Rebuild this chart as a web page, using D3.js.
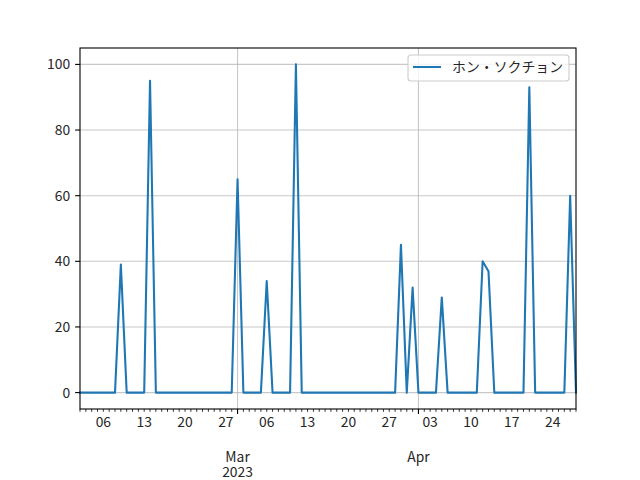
<!DOCTYPE html>
<html><head><meta charset="utf-8">
<script src="https://cdn.jsdelivr.net/npm/d3@7"></script>
<style>
body{margin:0;background:#fff;}
text{font-family:"Noto Sans CJK JP","DejaVu Sans",sans-serif;}
</style></head>
<body><svg id="c" width="640" height="480"></svg>
<script>
const startDate = "2023-02-02";
const seriesName = "ホン・ソクチョン";
// daily values from Feb 2 to Apr 28, 2023 (nonzero days listed, all others 0)
const peakDates = ["2023-02-09","2023-02-14","2023-03-01","2023-03-06","2023-03-11","2023-03-29","2023-03-31","2023-04-05","2023-04-12","2023-04-13","2023-04-20","2023-04-27"];
const peakValues = [39, 95, 65, 34, 100, 45, 32, 29, 40, 37, 93, 60];
const endDate = "2023-04-28";
const yTicks = [0, 20, 40, 60, 80, 100];
const monthLabels = [["2023-03-01","Mar","2023"],["2023-04-01","Apr",""]];

const parse = d3.utcParse("%Y-%m-%d");
const fmt = d3.utcFormat("%Y-%m-%d");
const peakMap = new Map(peakDates.map((d,i)=>[d, peakValues[i]]));
const days = d3.utcDay.range(parse(startDate), d3.utcDay.offset(parse(endDate),1));
const data = days.map(d => ({date:d, value: peakMap.has(fmt(d)) ? peakMap.get(fmt(d)) : 0}));

const L=80, R=576, T=48, B=409;
const FS = "13.89px";
const svg = d3.select("#c");
const x = d3.scaleUtc().domain([parse(startDate), parse(endDate)]).range([L,R]);
const y = d3.scaleLinear().domain([-5,105]).range([B,T]);

// grid
const months = monthLabels.map(m=>parse(m[0]));
svg.append("g").selectAll("line").data(yTicks).join("line")
  .attr("x1",L).attr("x2",R).attr("y1",d=>y(d)).attr("y2",d=>y(d))
  .attr("stroke","#b0b0b0").attr("stroke-width",1.1).attr("stroke-opacity",0.7);
svg.append("g").selectAll("line").data(months).join("line")
  .attr("x1",d=>x(d)).attr("x2",d=>x(d)).attr("y1",T).attr("y2",B)
  .attr("stroke","#b0b0b0").attr("stroke-width",1.1).attr("stroke-opacity",0.7);

// line
const line = d3.line().x(d=>x(d.date)).y(d=>y(d.value));
svg.append("path").datum(data).attr("d",line).attr("fill","none")
  .attr("stroke","#1f77b4").attr("stroke-width",2.08).attr("stroke-linejoin","round").attr("stroke-linecap","square");

// spines
svg.append("rect").attr("x",L).attr("y",T).attr("width",R-L).attr("height",B-T)
  .attr("fill","none").attr("stroke","#000").attr("stroke-width",1.1);

// x minor ticks daily
const minor = days.filter(d=>!months.some(m=>+m===+d));
svg.append("g").selectAll("line").data(minor).join("line")
  .attr("x1",d=>x(d)).attr("x2",d=>x(d)).attr("y1",B).attr("y2",B+2.8)
  .attr("stroke","#000").attr("stroke-width",0.8);
svg.append("g").selectAll("line").data(months).join("line")
  .attr("x1",d=>x(d)).attr("x2",d=>x(d)).attr("y1",B).attr("y2",B+4.9)
  .attr("stroke","#000").attr("stroke-width",1.1);
// weekly labels (Mondays)
const mondays = d3.utcMonday.range(parse(startDate), d3.utcDay.offset(parse(endDate),1));
svg.append("g").selectAll("text").data(mondays).join("text")
  .attr("x",d=>x(d)).attr("y",426.5).attr("text-anchor","middle")
  .attr("font-size",FS).attr("fill","#262626").text(d3.utcFormat("%d"));
const mt = svg.append("g").selectAll("text").data(monthLabels).join("text")
  .attr("text-anchor","middle").attr("font-size",FS).attr("fill","#262626");
mt.append("tspan").attr("x",d=>x(parse(d[0]))).attr("y",461.5).text(d=>d[1]);
mt.append("tspan").attr("x",d=>x(parse(d[0]))).attr("y",476.5).text(d=>d[2]);

// y ticks
svg.append("g").selectAll("line").data(yTicks).join("line")
  .attr("x1",L-4.9).attr("x2",L).attr("y1",d=>y(d)).attr("y2",d=>y(d))
  .attr("stroke","#000").attr("stroke-width",1.1);
svg.append("g").selectAll("text").data(yTicks).join("text")
  .attr("x",L-9.8).attr("y",d=>y(d)).attr("dy","0.36em").attr("text-anchor","end")
  .attr("font-size",FS).attr("fill","#262626").text(d=>d);

// legend
const lg = svg.append("g");
lg.append("rect").attr("x",408).attr("y",55).attr("width",161).attr("height",26).attr("rx",3)
  .attr("fill","#fff").attr("fill-opacity",0.8).attr("stroke","#cccccc").attr("stroke-width",1.1);
lg.append("line").attr("x1",413).attr("x2",441).attr("y1",67).attr("y2",67)
  .attr("stroke","#1f77b4").attr("stroke-width",2.08);
lg.append("text").attr("x",452).attr("y",67).attr("dy","0.36em")
  .attr("font-size",FS).attr("fill","#262626").text(seriesName);
</script></body></html>
